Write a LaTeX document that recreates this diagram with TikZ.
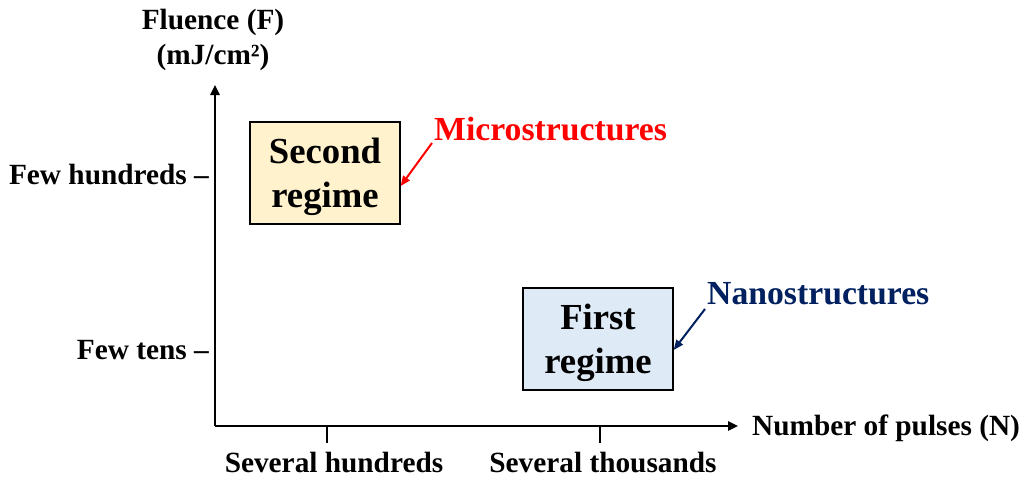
\documentclass[tikz,border=0pt]{standalone}
\usepackage{fontspec}
\setmainfont{Liberation Serif}
\usetikzlibrary{arrows.meta}
\definecolor{boxyellow}{HTML}{FFF2CC}
\definecolor{boxblue}{HTML}{DEEBF7}
\definecolor{navy}{HTML}{002060}
\begin{document}
\begin{tikzpicture}[x=1pt,y=-1pt,
  lbl/.style={font=\fontsize{29.3}{35}\selectfont\bfseries, inner sep=0pt},
  regime/.style={draw=black, line width=1.3pt, minimum width=150pt, minimum height=102pt, align=center, font=\fontsize{36.7}{44}\selectfont\bfseries, inner sep=0pt},
  axis/.style={line width=2.4pt, -{Triangle[length=10pt,width=9pt]}},
  tick/.style={line width=1.5pt},
  callout/.style={font=\fontsize{33.7}{38}\selectfont\bfseries, inner sep=0pt},
  pointer/.style={line width=2pt, -{Triangle[length=10pt,width=8pt]}}
]
\useasboundingbox (0,0) rectangle (1029,479);
\coordinate (O) at (215,426);
\coordinate (ytop) at (215,85);
\coordinate (xend) at (738,426);
\draw[axis] (O) -- (ytop);
\draw[axis] (O) -- (xend);
\node[lbl, align=center] (ylab) at (213,40) {Fluence (F)\\(mJ/cm²)};
\node[lbl, anchor=west] (xlab) at (752,428) {Number of pulses (N)};
\node[lbl, anchor=east] (yt1) at (209,175) {Few hundreds –};
\node[lbl, anchor=east] (yt2) at (209,350) {Few tens –};
\coordinate (t1a) at (327,427);
\coordinate (t1b) at (327,443);
\coordinate (t2a) at (600,427);
\coordinate (t2b) at (600,443);
\draw[tick] (t1a) -- (t1b);
\draw[tick] (t2a) -- (t2b);
\node[lbl] (xt1) at (334,463) {Several hundreds};
\node[lbl] (xt2) at (603,463) {Several thousands};
\node[regime, fill=boxyellow] (second) at (325,173) {};
\node[regime, fill=boxblue] (first) at (598,339) {};
\node[align=center, font=\fontsize{36.7}{44}\selectfont\bfseries, inner sep=0pt] (secondtxt) at (325,177) {Second\\regime};
\node[align=center, font=\fontsize{36.7}{44}\selectfont\bfseries, inner sep=0pt] (firsttxt) at (598,343) {First\\regime};
\node[callout, text=red, anchor=west] (micro) at (434,129) {Microstructures};
\node[callout, text=navy, anchor=west] (nano) at (707,294) {Nanostructures};
\coordinate (m0) at (432,143);
\coordinate (n0) at (705,309);
\draw[pointer, red] (m0) -- (second.east |- 0,186);
\draw[pointer, navy] (n0) -- (first.east |- 0,350);
\end{tikzpicture}
\end{document}
